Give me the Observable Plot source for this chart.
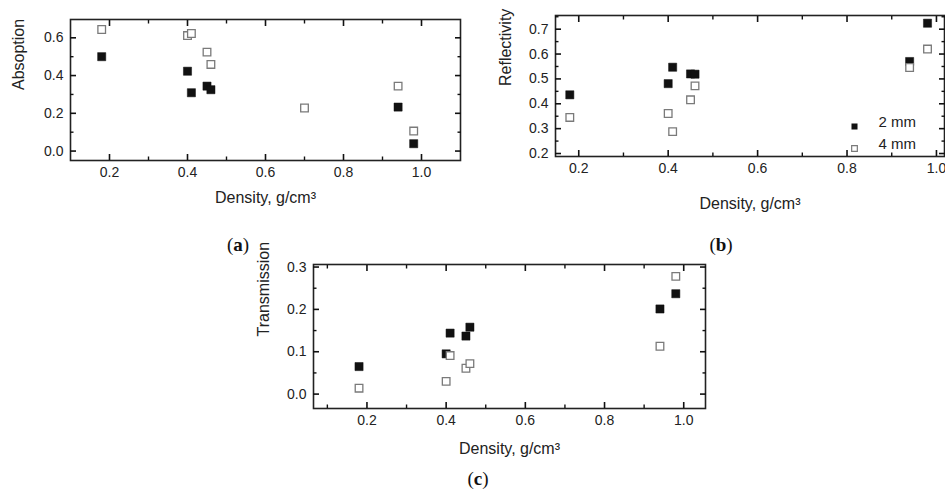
<!DOCTYPE html>
<html>
<head>
<meta charset="utf-8">
<script src="https://cdn.jsdelivr.net/npm/d3@7"></script>
<script src="https://cdn.jsdelivr.net/npm/@observablehq/plot@0.6"></script>
<style>
  html, body { margin: 0; padding: 0; background: #fff; }
  body { width: 945px; height: 496px; overflow: hidden; position: relative; font-family: "Liberation Sans", Arial, sans-serif; }
  .panel { position: absolute; }
  .panel svg { display: block; overflow: visible; }
  .tag { position: absolute; font-family: "Liberation Serif", "DejaVu Serif", serif; font-size: 19px; color: #111; transform: translate(-50%, -50%); white-space: nowrap; }
  .tag b { font-weight: bold; }
</style>
</head>
<body>
<script>
// ---- data ----
const seriesNames = ["2 mm", "4 mm"];
const density2mm = [0.18, 0.40, 0.41, 0.45, 0.46, 0.94, 0.98];
const density4mm = [0.18, 0.40, 0.41, 0.45, 0.46, 0.94, 0.98];
const densityAbs4mm = [0.18, 0.40, 0.41, 0.45, 0.46, 0.70, 0.94, 0.98];

const absorption2mm = [0.50, 0.423, 0.309, 0.344, 0.325, 0.233, 0.039];
const absorption4mm = [0.644, 0.612, 0.623, 0.524, 0.459, 0.228, 0.344, 0.106];

const reflectivity2mm = [0.436, 0.481, 0.547, 0.520, 0.519, 0.570, 0.724];
const reflectivity4mm = [0.345, 0.361, 0.288, 0.416, 0.472, 0.546, 0.620];

const transmission2mm = [0.065, 0.095, 0.144, 0.137, 0.158, 0.201, 0.237];
const transmission4mm = [0.014, 0.030, 0.091, 0.061, 0.072, 0.113, 0.278];

// tick values
const xMajorTicks = [0.2, 0.4, 0.6, 0.8, 1.0];
const xMinorTicks = [0.1, 0.3, 0.5, 0.7, 0.9, 1.1];
const yMajorAbs = [0.0, 0.2, 0.4, 0.6];
const yMinorAbs = [0.1, 0.3, 0.5, 0.7];
const yMajorRef = [0.2, 0.3, 0.4, 0.5, 0.6, 0.7];
const yMinorRef = [0.25, 0.35, 0.45, 0.55, 0.65, 0.75];
const yMajorTra = [0.0, 0.1, 0.2, 0.3];
const yMinorTra = [0.05, 0.15, 0.25];

const xTitle = "Density, g/cm³";
const panelTags = ["a", "b", "c"];

// ---- helpers ----
const fmt = d3.format(".1f");
const ink = "#222";
const openStroke = "#7a7a7a";

function rows(xs, ys, series) {
  return xs.map((x, i) => ({density: x, value: ys[i], series}));
}
function inside(ticks, dom) {
  const lo = Math.min(...dom), hi = Math.max(...dom);
  return ticks.filter(t => t > lo + 1e-9 && t < hi - 1e-9);
}

// inward ticks on all four sides (negative tick size points into the frame)
function mirrorTicks(xMaj, xMin, yMaj, yMin) {
  const out = [];
  for (const [ticks, L, sw] of [[xMaj, 6, 1.6], [xMin, 3.5, 1.4]]) {
    for (const anchor of ["bottom", "top"])
      out.push(Plot.axisX({anchor, ticks, tickSize: -L, tickFormat: () => "", label: null, stroke: "#111", strokeWidth: sw}));
  }
  for (const [ticks, L, sw] of [[yMaj, 6, 1.6], [yMin, 3.5, 1.4]]) {
    for (const anchor of ["left", "right"])
      out.push(Plot.axisY({anchor, ticks, tickSize: -L, tickFormat: () => "", label: null, stroke: "#111", strokeWidth: sw}));
  }
  return out;
}

function panel({left, top, width, height, margin, xDomain, yDomain, yMajor, yMinor, yTitle,
                filled, open, xTitleOffset, yTitleOffset, legend}) {
  const xMaj = inside(xMajorTicks, xDomain), xMin = inside(xMinorTicks, xDomain);
  const yMaj = inside(yMajor, yDomain), yMin = inside(yMinor, yDomain);
  const marks = [
    Plot.frame({fill: "none", stroke: ink, strokeWidth: 1.6}),
    Plot.axisX({anchor: "bottom", ticks: xMaj, tickSize: 0, tickPadding: 7, tickFormat: fmt, label: null, fontSize: 14, fill: ink}),
    Plot.axisY({anchor: "left", ticks: yMaj, tickSize: 0, tickPadding: 7, tickFormat: fmt, label: null, fontSize: 14, fill: ink}),
    ...mirrorTicks(xMaj, xMin, yMaj, yMin),
    Plot.dot(filled, {x: "density", y: "value", symbol: "square", r: 4.6, fill: "#111", stroke: "#111", strokeWidth: 0.5}),
    Plot.dot(open, {x: "density", y: "value", symbol: "square", r: 4.3, fill: "#fff", stroke: openStroke, strokeWidth: 1.3}),
    Plot.text([xTitle], {text: d => d, frameAnchor: "bottom", dy: xTitleOffset, fontSize: 16, fill: ink, lineAnchor: "middle"}),
    Plot.text([yTitle], {text: d => d, frameAnchor: "left", dx: -yTitleOffset, rotate: -90, fontSize: 16, fill: ink, lineAnchor: "middle"})
  ];
  if (legend) {
    marks.push(
      Plot.dot([seriesNames[0]], {frameAnchor: "bottom-right", dx: -90, dy: -30, symbol: "square", r: 3.4, fill: "#111"}),
      Plot.dot([seriesNames[1]], {frameAnchor: "bottom-right", dx: -90, dy: -8, symbol: "square", r: 3.2, fill: "#fff", stroke: openStroke, strokeWidth: 1.2}),
      Plot.text([seriesNames[0]], {text: d => d, frameAnchor: "bottom-right", dx: -66, dy: -30, textAnchor: "start", fontSize: 15, fill: ink}),
      Plot.text([seriesNames[1]], {text: d => d, frameAnchor: "bottom-right", dx: -66, dy: -8, textAnchor: "start", fontSize: 15, fill: ink})
    );
  }
  const svg = Plot.plot({
    width, height,
    marginTop: margin[0], marginRight: margin[1], marginBottom: margin[2], marginLeft: margin[3],
    style: {fontFamily: '"Liberation Sans", Arial, sans-serif', background: "transparent"},
    x: {domain: xDomain},
    y: {domain: yDomain},
    marks
  });
  const div = document.createElement("div");
  div.className = "panel";
  div.style.left = left + "px";
  div.style.top = top + "px";
  div.appendChild(svg);
  document.body.appendChild(div);
}

panel({
  left: 0, top: 0, width: 470, height: 215, margin: [19, 10, 55, 70],
  xDomain: [0.1, 1.1], yDomain: [-0.05, 0.697],
  yMajor: yMajorAbs, yMinor: yMinorAbs, yTitle: "Absoption",
  filled: rows(density2mm, absorption2mm, seriesNames[0]),
  open: rows(densityAbs4mm, absorption4mm, seriesNames[1]),
  xTitleOffset: 37, yTitleOffset: 52
});
panel({
  left: 470, top: 0, width: 475, height: 215, margin: [15, 1, 59, 85],
  xDomain: [0.148, 1.018], yDomain: [0.188, 0.755],
  yMajor: yMajorRef, yMinor: yMinorRef, yTitle: "Reflectivity",
  filled: rows(density2mm, reflectivity2mm, seriesNames[0]),
  open: rows(density4mm, reflectivity4mm, seriesNames[1]),
  xTitleOffset: 47, yTitleOffset: 50, legend: true
});
panel({
  left: 230, top: 240, width: 480, height: 215, margin: [24, 5, 47, 83],
  xDomain: [0.065, 1.055], yDomain: [-0.034, 0.306],
  yMajor: yMajorTra, yMinor: yMinorTra, yTitle: "Transmission",
  filled: rows(density2mm, transmission2mm, seriesNames[0]),
  open: rows(density4mm, transmission4mm, seriesNames[1]),
  xTitleOffset: 40, yTitleOffset: 50
});

// panel tags
const tagPos = [[238, 245], [721, 245], [478, 479]];
panelTags.forEach((t, i) => {
  const d = document.createElement("div");
  d.className = "tag";
  d.style.left = tagPos[i][0] + "px";
  d.style.top = tagPos[i][1] + "px";
  d.innerHTML = "(<b>" + t + "</b>)";
  document.body.appendChild(d);
});
</script>
</body>
</html>
